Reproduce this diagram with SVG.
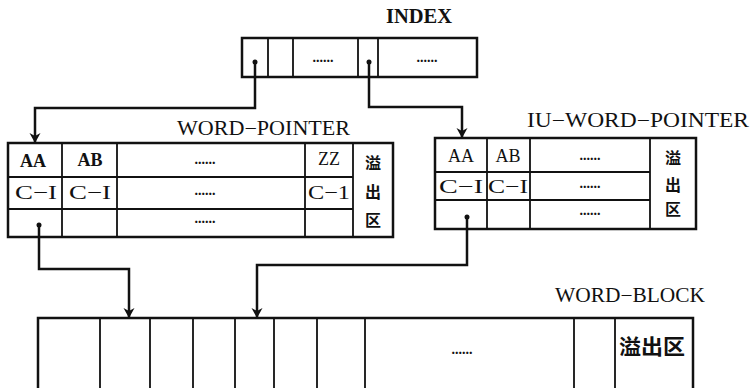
<svg xmlns="http://www.w3.org/2000/svg" width="750" height="388" viewBox="0 0 750 388">
<defs>
<style>
.box{fill:#fff;stroke:#111;stroke-width:2.5}
.div{stroke:#111;stroke-width:1.8;fill:none}
.conn{stroke:#111;stroke-width:2.5;fill:none}
.lbl{font-family:"Liberation Serif","Noto Sans CJK SC",serif;font-size:20px;fill:#111}
.cell{font-family:"Liberation Serif","Noto Sans CJK SC",serif;font-size:18px;fill:#111;text-anchor:middle}
.ci{font-family:"Liberation Serif",serif;font-size:19px;fill:#111;text-anchor:middle}
.b{font-weight:bold}
.dots{font-family:"Liberation Serif",serif;font-size:14px;fill:#111;text-anchor:middle;font-weight:bold}
.cjk{font-family:"Noto Sans CJK SC",sans-serif;font-size:16px;font-weight:bold;fill:#111;text-anchor:middle}
</style>
<marker id="arr" markerUnits="userSpaceOnUse" markerWidth="12" markerHeight="12" refX="10" refY="6" orient="auto">
<path d="M0,0.5 L10,6 L0,11.5 L3,6 z" fill="#111"/>
</marker>
</defs>
<rect width="750" height="388" fill="#fff"/>

<g id="index">
<text class="lbl b" x="386" y="23" textLength="66" lengthAdjust="spacingAndGlyphs">INDEX</text>
<rect class="box" x="242" y="38" width="235" height="39"/>
<path class="div" d="M268,38V77M293,38V77M358,38V77M378,38V77"/>
<text class="dots" x="323" y="62">......</text>
<text class="dots" x="427" y="62">......</text>
</g>

<g id="word-pointer">
<text class="lbl" x="177" y="135" textLength="173" lengthAdjust="spacingAndGlyphs">WORD−POINTER</text>
<rect class="box" x="8" y="143" width="385" height="94"/>
<path class="div" d="M62,143V237M117,143V237M305,143V237M353,143V237M8,177H353M8,209H353"/>
<text class="cell b" x="33" y="167">AA</text>
<text class="cell b" x="90" y="166">AB</text>
<text class="dots" x="205" y="164">......</text>
<text class="cell" x="329" y="165">ZZ</text>
<text class="ci" x="36" y="199" textLength="42" lengthAdjust="spacingAndGlyphs">C−I</text>
<text class="ci" x="90" y="199" textLength="42" lengthAdjust="spacingAndGlyphs">C−I</text>
<text class="dots" x="205" y="195">......</text>
<text class="ci" x="329" y="199" textLength="42" lengthAdjust="spacingAndGlyphs">C−1</text>
<text class="dots" x="205" y="223">......</text>
<text class="cjk" x="373" y="169">溢</text>
<text class="cjk" x="373" y="198">出</text>
<text class="cjk" x="373" y="226">区</text>
</g>

<g id="iu-word-pointer">
<text class="lbl" x="527" y="127" textLength="222" lengthAdjust="spacingAndGlyphs">IU−WORD−POINTER</text>
<rect class="box" x="435" y="138" width="261" height="91"/>
<path class="div" d="M487,138V229M530,138V229M650,138V229M435,172H650M435,200H650"/>
<text class="cell" x="461" y="162">AA</text>
<text class="cell" x="508" y="162">AB</text>
<text class="dots" x="590" y="160">......</text>
<text class="ci" x="461" y="193" textLength="44" lengthAdjust="spacingAndGlyphs">C−I</text>
<text class="ci" x="508" y="193" textLength="40" lengthAdjust="spacingAndGlyphs">C−I</text>
<text class="dots" x="590" y="188">......</text>
<text class="dots" x="590" y="215">......</text>
<text class="cjk" x="673" y="164">溢</text>
<text class="cjk" x="673" y="191">出</text>
<text class="cjk" x="673" y="215">区</text>
</g>

<g id="word-block">
<text class="lbl" x="555" y="302" textLength="150" lengthAdjust="spacingAndGlyphs">WORD−BLOCK</text>
<rect class="box" x="38" y="318" width="655" height="90"/>
<path class="div" d="M100,318V400M150,318V400M193,318V400M235,318V400M274,318V400M317,318V400M365,318V400M574,318V400M615,318V400"/>
<text class="dots" x="462" y="354">......</text>
<text class="cjk" x="652" y="354" style="font-size:21px" textLength="66" lengthAdjust="spacingAndGlyphs">溢出区</text>
</g>

<g id="connectors">
<circle cx="255" cy="62" r="2.5" fill="#111"/>
<circle cx="369" cy="62" r="2.5" fill="#111"/>
<circle cx="39" cy="225" r="2.5" fill="#111"/>
<circle cx="467" cy="217" r="2.5" fill="#111"/>
<path class="conn" d="M255,62V108H35V143" marker-end="url(#arr)"/>
<path class="conn" d="M369,62V107H462V138" marker-end="url(#arr)"/>
<path class="conn" d="M39,225V269H129V318" marker-end="url(#arr)"/>
<path class="conn" d="M467,217V265H257V318" marker-end="url(#arr)"/>
</g>
</svg>
